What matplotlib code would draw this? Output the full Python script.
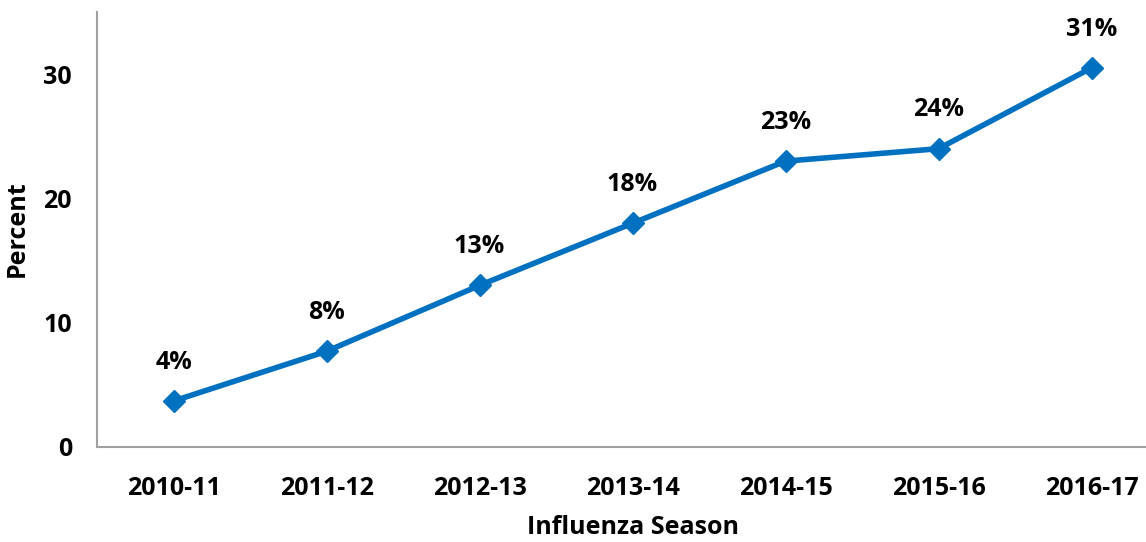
import matplotlib
matplotlib.use("Agg")
import matplotlib.pyplot as plt

seasons = ["2010-11", "2011-12", "2012-13", "2013-14", "2014-15", "2015-16", "2016-17"]
percent = [3.7, 7.7, 13.0, 18.0, 23.0, 24.0, 30.5]
point_labels = ["4%", "8%", "13%", "18%", "23%", "24%", "31%"]
yticks = [0, 10, 20, 30]

plt.rcParams["font.family"] = ["Open Sans", "DejaVu Sans"]
plt.rcParams["font.weight"] = "bold"

blue = "#0070C0"
fs = 18
fig = plt.figure(figsize=(11.46, 5.42), dpi=100)
ax = fig.add_axes([97 / 1146, 1 - 447 / 542, 1071 / 1146, 435 / 542])

x = list(range(len(seasons)))
ax.plot(x, percent, color=blue, linewidth=4, marker="D", markersize=11,
        clip_on=False, zorder=3)
for xi, yi, lab in zip(x, percent, point_labels):
    ax.annotate(lab, (xi, yi), xytext=(0, 28), textcoords="offset points",
                ha="center", va="center", fontsize=fs, fontweight="bold")

ax.set_xlim(-0.5, 6.5)
ax.set_ylim(0, 35)
ax.set_xticks(x)
ax.set_xticklabels(seasons)
ax.set_yticks(yticks)
ax.tick_params(axis="both", length=0, labelsize=fs, colors="black")
ax.tick_params(axis="x", pad=21)
ax.tick_params(axis="y", pad=18)

for side in ["top", "right"]:
    ax.spines[side].set_visible(False)
for side in ["left", "bottom"]:
    ax.spines[side].set_color("#a0a0a0")
    ax.spines[side].set_linewidth(1.5)

ax.set_xlabel("Influenza Season", fontsize=fs, fontweight="bold")
ax.set_ylabel("Percent", fontsize=fs, fontweight="bold")
ax.xaxis.set_label_coords((633 - 97) / 1071, (447 - 528) / 435)
ax.yaxis.set_label_coords((17 - 97) / 1071, (447 - 229) / 435)
ax.xaxis.label.set_va("center")
ax.yaxis.label.set_va("center")

fig.savefig("out.png", dpi=100)
